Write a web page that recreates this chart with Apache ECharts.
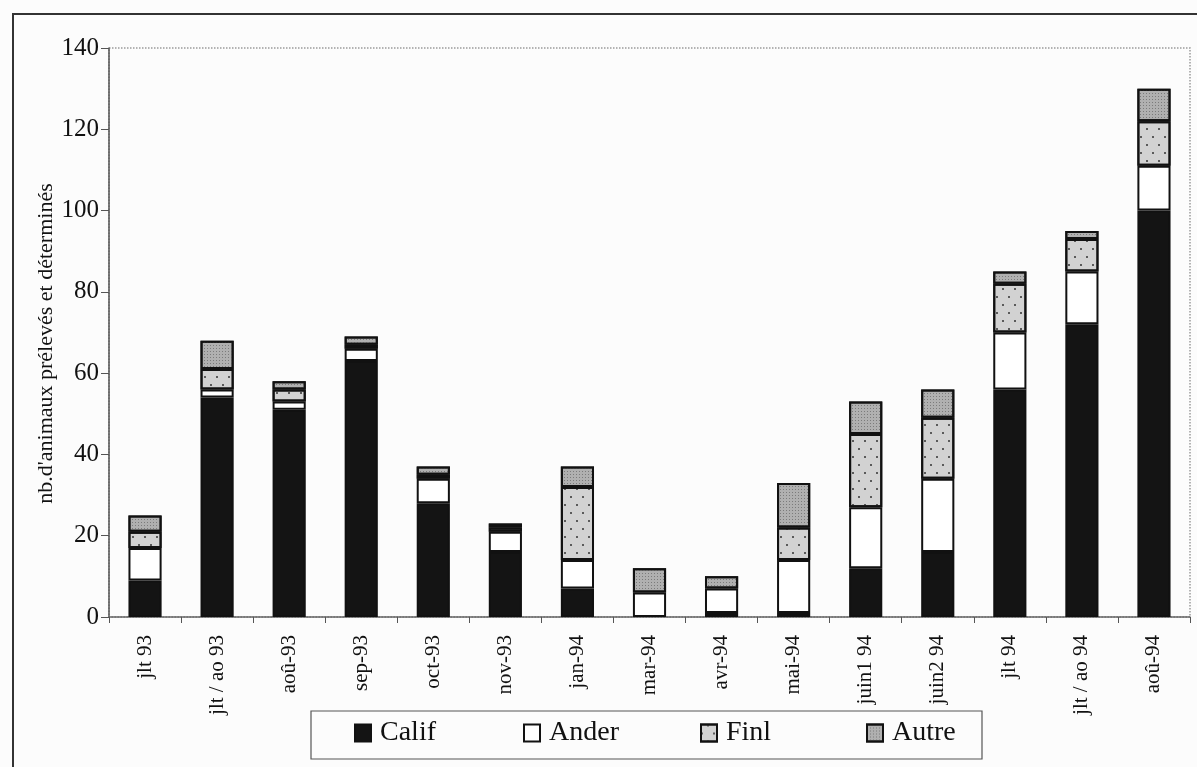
<!DOCTYPE html>
<html>
<head>
<meta charset="utf-8">
<script src="https://cdn.jsdelivr.net/npm/echarts@6/dist/echarts.min.js"></script>
<style>
  html, body { margin: 0; padding: 0; background: #fcfcfc; }
  #chart { width: 1197px; height: 767px; }
</style>
</head>
<body>
<div id="chart"></div>
<script>
const categories = ['jlt 93', 'jlt / ao 93', 'aoû-93', 'sep-93', 'oct-93', 'nov-93', 'jan-94', 'mar-94', 'avr-94', 'mai-94', 'juin1 94', 'juin2 94', 'jlt 94', 'jlt / ao 94', 'aoû-94'];
const califValues = [9, 54, 51, 63, 28, 16, 7, 0, 1, 1, 12, 16, 56, 72, 100];
const anderValues = [8, 2, 2, 3, 6, 5, 7, 6, 6, 13, 15, 18, 14, 13, 11];
const finlValues  = [4, 5, 3, 1, 1, 1, 18, 0, 0, 8, 18, 15, 12, 8, 11];
const autreValues = [4, 7, 2, 2, 2, 1, 5, 6, 3, 11, 8, 7, 3, 2, 8];
const yTicks = [0, 20, 40, 60, 80, 100, 120, 140];
const yAxisTitle = "nb.d'animaux prélevés et déterminés";

const FONT = '"Liberation Serif", "DejaVu Serif", serif';
const clean = arr => arr.map(v => (v === 0 ? '-' : v));

const chart = echarts.init(document.getElementById('chart'), null, { renderer: 'canvas' });

const border = { borderColor: '#111', borderWidth: 2 };
const seriesDefs = [
  { name: 'Calif', data: califValues, itemStyle: Object.assign({ color: '#141414' }, border) },
  { name: 'Ander', data: anderValues, itemStyle: Object.assign({ color: '#ffffff' }, border) },
  { name: 'Finl', data: finlValues, itemStyle: Object.assign({
      color: '#d2d2d2',
      decal: { symbol: 'rect', symbolSize: 1, color: 'rgba(60,60,60,0.8)', dashArrayX: [[2, 10], [0, 6, 2, 4]], dashArrayY: [2, 6] }
    }, border) },
  { name: 'Autre', data: autreValues, itemStyle: Object.assign({
      color: '#b0b0b0',
      decal: { symbol: 'rect', symbolSize: 1, color: 'rgba(110,110,110,0.8)', dashArrayX: [1, 2], dashArrayY: [1, 2] }
    }, border) }
];

const legendLefts = [354, 523, 700, 866];

const option = {
  backgroundColor: '#fcfcfc',
  animation: false,
  graphic: [
    { type: 'rect', shape: { x: 13, y: 14, width: 1200, height: 780 }, style: { fill: 'none', stroke: '#333', lineWidth: 2 }, silent: true },
    { type: 'rect', shape: { x: 311, y: 711, width: 671, height: 48 }, style: { fill: 'none', stroke: '#555', lineWidth: 1.2 }, silent: true, z: 10 }
  ],
  grid: {
    left: 109, right: 7, top: 48, bottom: 150,
    show: true, borderColor: '#9a9a9a', borderWidth: 1.5, borderType: 'dotted', backgroundColor: 'transparent'
  },
  legend: seriesDefs.map((s, i) => ({
    data: [s.name],
    icon: 'rect',
    left: legendLefts[i],
    top: 719,
    padding: 0,
    itemWidth: 16,
    itemHeight: 17,
    textStyle: { fontFamily: FONT, fontSize: 28, color: '#111', padding: [0, 0, 0, 4] },
    selectedMode: false
  })),
  xAxis: {
    type: 'category',
    data: categories,
    axisLine: { show: true, lineStyle: { color: '#666', width: 1.5 } },
    axisTick: { show: true, alignWithLabel: false, length: 6, lineStyle: { color: '#555' } },
    axisLabel: { rotate: 90, fontFamily: FONT, fontSize: 21, color: '#111', margin: 18, interval: 0 }
  },
  yAxis: {
    type: 'value',
    min: 0, max: 140, interval: 20,
    name: yAxisTitle,
    nameLocation: 'middle',
    nameGap: 52,
    nameMoveOverlap: false,
    nameRotate: 90,
    nameTextStyle: { fontFamily: FONT, fontSize: 22, color: '#111', padding: [0, 22, 0, 0] },
    axisLine: { show: true, lineStyle: { color: '#555', width: 1.5 } },
    axisTick: { show: true, length: 8, lineStyle: { color: '#555' } },
    splitLine: { show: false },
    axisLabel: {
      fontFamily: FONT, fontSize: 25, color: '#111', margin: 10,
      formatter: v => (yTicks.indexOf(v) >= 0 ? String(v) : '')
    }
  },
  series: seriesDefs.map(s => ({
    name: s.name,
    type: 'bar',
    stack: 'total',
    barWidth: '46%',
    data: clean(s.data),
    itemStyle: s.itemStyle,
    emphasis: { disabled: true }
  }))
};

chart.setOption(option);
</script>
</body>
</html>
